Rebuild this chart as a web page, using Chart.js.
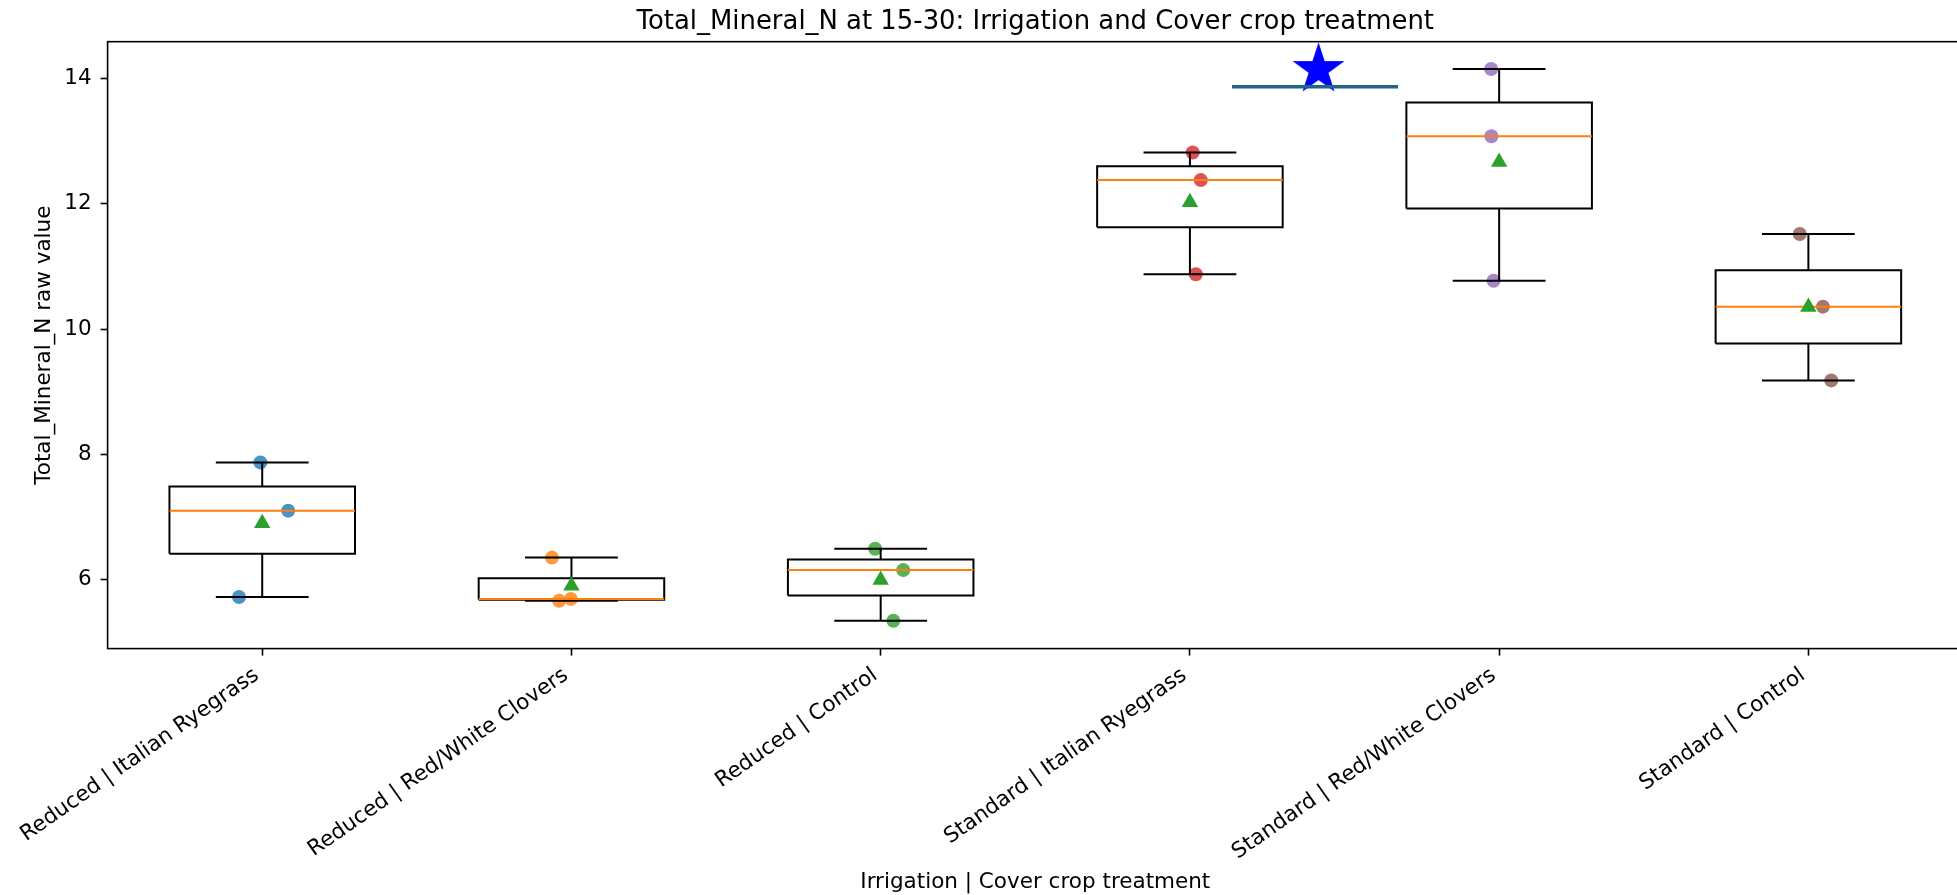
<!DOCTYPE html>
<html>
<head>
<meta charset="utf-8">
<script src="https://cdn.jsdelivr.net/npm/chart.js@4.4.0/dist/chart.umd.min.js"></script>
<style>
  html, body { margin: 0; padding: 0; background: #fff; overflow: hidden; }
  #wrap { width: 1957px; height: 895px; overflow: hidden; position: relative; }
  #wrap canvas { position: absolute; left: 0; top: 0; }
</style>
</head>
<body>
<div id="wrap"><canvas id="c" width="1966" height="895" style="width:1966px;height:895px"></canvas></div>
<script>
// ---- data -------------------------------------------------------------
const groupLabels = [
  'Reduced | Italian Ryegrass',
  'Reduced | Red/White Clovers',
  'Reduced | Control',
  'Standard | Italian Ryegrass',
  'Standard | Red/White Clovers',
  'Standard | Control'
];

// raw Total_Mineral_N observations (three plots per treatment)
const reducedRyegrass  = [7.87, 7.10, 5.72];
const reducedClovers   = [6.35, 5.66, 5.69];
const reducedControl   = [6.49, 6.15, 5.34];
const standardRyegrass = [12.82, 12.38, 10.875];
const standardClovers  = [14.155, 13.08, 10.773];
const standardControl  = [11.52, 10.358, 9.18];

// horizontal jitter of each observation, in category units
const reducedRyegrassJitter  = [-0.006, 0.084, -0.075];
const reducedCloversJitter   = [-0.063, -0.040, -0.002];
const reducedControlJitter   = [-0.018, 0.073, 0.041];
const standardRyegrassJitter = [0.009, 0.035, 0.019];
const standardCloversJitter  = [-0.026, -0.025, -0.018];
const standardControlJitter  = [-0.028, 0.047, 0.074];

const groupValues = [reducedRyegrass, reducedClovers, reducedControl,
                     standardRyegrass, standardClovers, standardControl];
const groupJitter = [reducedRyegrassJitter, reducedCloversJitter, reducedControlJitter,
                     standardRyegrassJitter, standardCloversJitter, standardControlJitter];

// significance bar between the standard-irrigation groups
const sigBarX = [3.136, 3.673];
const sigBarY = 13.872;
const sigStar = { x: 3.416, y: 14.145 };

const yTickValues = [6, 8, 10, 12, 14];
const yRange = [4.896, 14.591];

// ---- styling ----------------------------------------------------------
const FONT = 'DejaVu Sans';
const LABEL_SIZE = 21.5;
const TITLE_SIZE = 25.9;
const pointColors = ['rgba(31,119,180,0.8)', 'rgba(255,127,14,0.8)', 'rgba(44,160,44,0.8)',
                     'rgba(214,39,40,0.8)', 'rgba(148,103,189,0.8)', 'rgba(140,86,75,0.8)'];
const BOX_HALF = 0.3, CAP_HALF = 0.15;

// ---- box statistics (linear-interpolated quartiles, 1.5 IQR whiskers) --
function quantile(s, p) {
  const idx = p * (s.length - 1);
  const lo = Math.floor(idx), hi = Math.ceil(idx);
  return s[lo] + (s[hi] - s[lo]) * (idx - lo);
}
function boxStats(vals) {
  const s = [...vals].sort((a, b) => a - b);
  const q1 = quantile(s, 0.25), med = quantile(s, 0.5), q3 = quantile(s, 0.75);
  const iqr = q3 - q1;
  const lo = s.find(v => v >= q1 - 1.5 * iqr);
  const hi = [...s].reverse().find(v => v <= q3 + 1.5 * iqr);
  const mean = s.reduce((a, b) => a + b, 0) / s.length;
  return { q1, med, q3, lo, hi, mean };
}
const stats = groupValues.map(boxStats);

// polylines broken by null points
const boxOutline = [], medianLines = [], whiskerLines = [], meanPoints = [];
stats.forEach((st, i) => {
  boxOutline.push({x: i - BOX_HALF, y: st.q1}, {x: i + BOX_HALF, y: st.q1},
                  {x: i + BOX_HALF, y: st.q3}, {x: i - BOX_HALF, y: st.q3},
                  {x: i - BOX_HALF, y: st.q1}, {x: i, y: null});
  medianLines.push({x: i - BOX_HALF, y: st.med}, {x: i + BOX_HALF, y: st.med}, {x: i, y: null});
  whiskerLines.push({x: i, y: st.q3}, {x: i, y: st.hi}, {x: i, y: null},
                    {x: i, y: st.q1}, {x: i, y: st.lo}, {x: i, y: null},
                    {x: i - CAP_HALF, y: st.hi}, {x: i + CAP_HALF, y: st.hi}, {x: i, y: null},
                    {x: i - CAP_HALF, y: st.lo}, {x: i + CAP_HALF, y: st.lo}, {x: i, y: null});
  meanPoints.push({x: i, y: st.mean});
});

function starImage(R, color) {
  const size = Math.ceil(2 * R + 2);
  const c = document.createElement('canvas');
  c.width = size; c.height = size;
  const g = c.getContext('2d');
  const cx = size / 2, cy = size / 2, r = R * 0.381966;
  g.fillStyle = color;
  g.beginPath();
  for (let k = 0; k < 10; k++) {
    const a = -Math.PI / 2 + k * Math.PI / 5;
    const rr = k % 2 ? r : R;
    g.lineTo(cx + rr * Math.cos(a), cy + rr * Math.sin(a));
  }
  g.closePath();
  g.fill();
  return c;
}

const lineBase = { type: 'scatter', showLine: true, spanGaps: false, pointRadius: 0,
                   fill: false, tension: 0 };

const datasets = [];
groupValues.forEach((vals, i) => {
  datasets.push({
    type: 'scatter', label: groupLabels[i],
    data: vals.map((v, k) => ({x: i + groupJitter[i][k], y: v})),
    pointRadius: 7, pointBorderWidth: 0, pointBackgroundColor: pointColors[i],
    order: 10
  });
});
datasets.push(Object.assign({}, lineBase, { label: 'box', data: boxOutline,
  borderColor: '#000', borderWidth: 2, order: 5 }));
datasets.push(Object.assign({}, lineBase, { label: 'whiskers', data: whiskerLines,
  borderColor: '#000', borderWidth: 2, order: 5 }));
datasets.push(Object.assign({}, lineBase, { label: 'median', data: medianLines,
  borderColor: '#ff7f0e', borderWidth: 2, order: 4 }));
datasets.push({ type: 'scatter', label: 'mean', data: meanPoints, pointStyle: 'triangle',
  pointRadius: 9.5, pointBorderWidth: 0, pointBackgroundColor: '#2ca02c', order: 3 });
datasets.push({ type: 'scatter', label: 'star', data: [sigStar], pointStyle: starImage(27.3, '#0000ff'),
  pointRadius: 27, clip: false, order: 2 });
datasets.push(Object.assign({}, lineBase, { label: 'sig', data: [{x: sigBarX[0], y: sigBarY}, {x: sigBarX[1], y: sigBarY}],
  borderColor: '#1d6589', borderWidth: 3.5, order: 1 }));

const frame = {
  id: 'frame',
  beforeDatasetsDraw(chart) {
    const a = chart.chartArea, ctx = chart.ctx;
    ctx.save();
    ctx.strokeStyle = '#000';
    ctx.lineWidth = 1.6;
    ctx.strokeRect(a.left, a.top, a.right - a.left, a.bottom - a.top);
    ctx.restore();
  }
};

Chart.defaults.font.family = FONT;
Chart.defaults.color = '#000';

new Chart(document.getElementById('c'), {
  type: 'scatter',
  data: { datasets },
  options: {
    responsive: false,
    animation: false,
    events: [],
    devicePixelRatio: 1,
    layout: { autoPadding: false, padding: { left: 0, top: 0, right: 3, bottom: 0 } },
    plugins: {
      legend: { display: false },
      tooltip: { enabled: false },
      title: {
        display: true, fullSize: false,
        text: 'Total_Mineral_N at 15-30: Irrigation and Cover crop treatment',
        font: { family: FONT, size: TITLE_SIZE, weight: 'normal' }, color: '#000',
        padding: { top: 7.2, bottom: 3.4 }
      }
    },
    scales: {
      x: {
        type: 'linear', min: -0.5, max: 5.5,
        afterBuildTicks: (ax) => { ax.ticks = groupLabels.map((_, i) => ({ value: i })); },
        afterFit: (ax) => { ax.height = 246.4; ax.paddingLeft = 0; ax.paddingRight = 0; },
        ticks: {
          callback: (v) => groupLabels[v] ?? '',
          autoSkip: false, minRotation: 35, maxRotation: 35,
          font: { family: FONT, size: LABEL_SIZE }, color: '#000',
          padding: 7, labelOffset: -5.5
        },
        grid: { display: true, drawOnChartArea: false, drawTicks: true, tickLength: 7,
                tickWidth: 1.6, tickColor: '#000' },
        border: { display: false },
        title: { display: true, text: 'Irrigation | Cover crop treatment',
                 font: { family: FONT, size: LABEL_SIZE }, color: '#000', padding: { top: 0, bottom: 0 } }
      },
      y: {
        type: 'linear', min: yRange[0], max: yRange[1],
        afterBuildTicks: (ax) => { ax.ticks = yTickValues.map(v => ({ value: v })); },
        afterFit: (ax) => { ax.width = 107.6; ax.paddingTop = 0; ax.paddingBottom = 0; },
        ticks: { font: { family: FONT, size: LABEL_SIZE }, color: '#000', padding: 9,
                 callback: (v) => String(v) },
        grid: { display: true, drawOnChartArea: false, drawTicks: true, tickLength: 7,
                tickWidth: 1.6, tickColor: '#000' },
        border: { display: false },
        title: { display: true, text: 'Total_Mineral_N raw value',
                 font: { family: FONT, size: LABEL_SIZE }, color: '#000', padding: { top: 31.3, bottom: 0 } }
      }
    }
  },
  plugins: [frame]
});
</script>
</body>
</html>
